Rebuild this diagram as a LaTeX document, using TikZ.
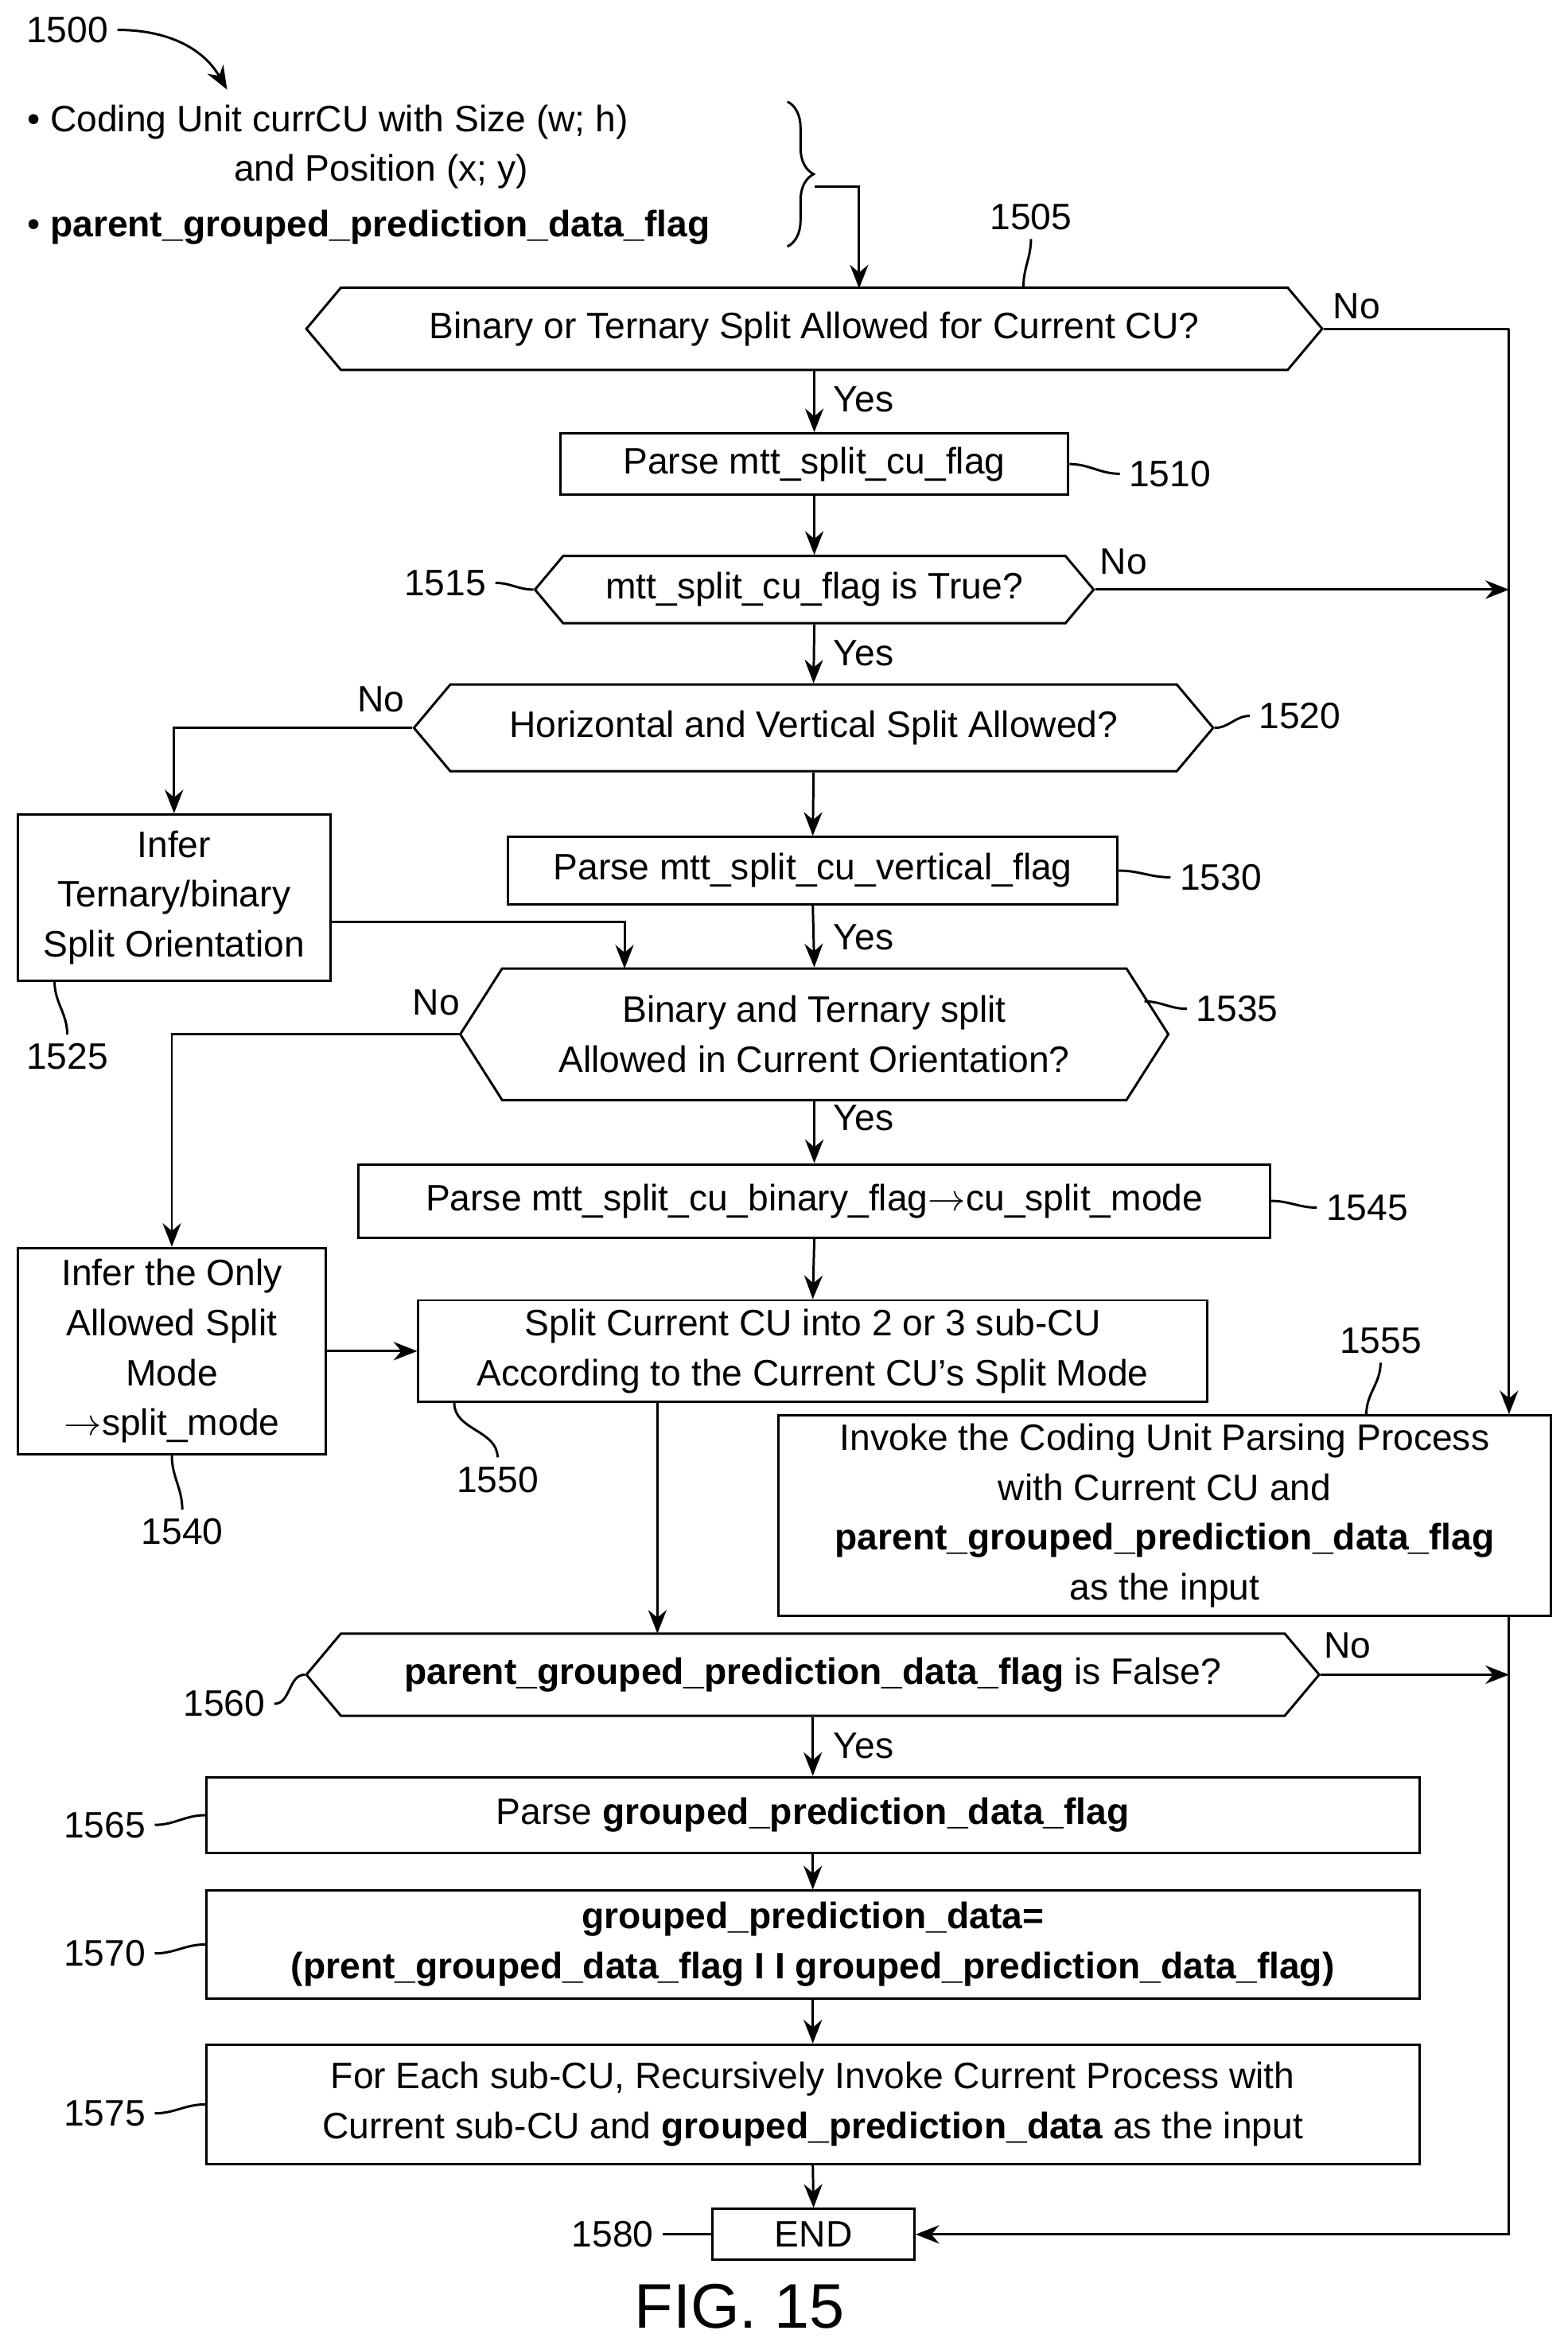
\documentclass[tikz,border=0pt]{standalone}
\usepackage{fontspec}
\setmainfont{Liberation Sans}
\usetikzlibrary{shapes.symbols,decorations.pathreplacing,arrows.meta}
\tikzset{
  box/.style={draw,line width=0.9pt,align=center,inner sep=0pt},
  dec/.style={draw,line width=0.9pt,align=center,shape=signal,signal to=west and east,
    signal pointer angle=100,inner sep=0pt},
  line/.style={line width=0.9pt},
  flow/.style={line width=0.9pt,-{Stealth[length=9pt,width=7pt]}},
}
\begin{document}
\begin{tikzpicture}[x=0.02cm,y=-0.02cm,font=\fontsize{14}{19}\selectfont]
\useasboundingbox (0,0) rectangle (1049,1567);

% inputs
\node (l1500) at (45,20) {1500};
\coordinate (c1500) at (152,60);
\draw[flow] (l1500.east) to[out=0,in=120] (c1500);
\node[anchor=west] (t1) at (12,82) {\textbullet\ Coding Unit currCU with Size (w; h)};
\node (t2) at (255,115) {and Position (x; y)};
\node[anchor=west] (t3) at (12,152) {\textbullet\ \textbf{parent\_grouped\_prediction\_data\_flag}};
\draw[line,decorate,decoration={brace,amplitude=10pt}] (527,68) -- (527,165);
\coordinate (br) at (545,125);
\coordinate (c1505) at (575,193);
\draw[flow] (br) -| (c1505);

% main column
\node[dec,minimum width=13.6cm,minimum height=1.1cm] (d1505) at (545,220) {Binary or Ternary Split Allowed for Current CU?};
\node[box,minimum width=6.8cm,minimum height=0.82cm] (b1510) at (545,310.5) {Parse mtt\_split\_cu\_flag};
\node[dec,minimum width=7.48cm,minimum height=0.9cm] (d1515) at (545,394.5) {mtt\_split\_cu\_flag is True?};
\node[dec,minimum width=10.7cm,minimum height=1.16cm] (d1520) at (544.5,487) {Horizontal and Vertical Split Allowed?};
\node[box,minimum width=4.18cm,minimum height=2.22cm] (b1525) at (116.5,600.5) {Infer\\Ternary/binary\\Split Orientation};
\node[box,minimum width=8.16cm,minimum height=0.9cm] (b1530) at (544,582.5) {Parse mtt\_split\_cu\_vertical\_flag};
\node[dec,minimum width=9.48cm,minimum height=1.76cm,signal pointer angle=115] (d1535) at (545,692) {Binary and Ternary split\\Allowed in Current Orientation?};
\node[box,minimum width=12.2cm,minimum height=0.98cm] (b1545) at (545,803.5) {Parse mtt\_split\_cu\_binary\_flag$\rightarrow$cu\_split\_mode};
\node[box,minimum width=4.12cm,minimum height=2.76cm] (b1540) at (115,904) {Infer the Only\\Allowed Split\\Mode\\$\rightarrow$split\_mode};
\node[box,minimum width=10.56cm,minimum height=1.36cm] (b1550) at (544,904) {Split Current CU into 2 or 3 sub-CU\\According to the Current CU's Split Mode};
\node[box,minimum width=10.34cm,minimum height=2.68cm] (b1555) at (779.5,1014) {Invoke the Coding Unit Parsing Process\\with Current CU and\\\textbf{parent\_grouped\_prediction\_data\_flag}\\as the input};
\node[dec,minimum width=13.56cm,minimum height=1.1cm] (d1560) at (544,1120.5) {\textbf{parent\_grouped\_prediction\_data\_flag} is False?};
\node[box,minimum width=16.24cm,minimum height=1.02cm] (b1565) at (544,1214.5) {Parse \textbf{grouped\_prediction\_data\_flag}};
\node[box,minimum width=16.24cm,minimum height=1.44cm] (b1570) at (544,1301) {\textbf{grouped\_prediction\_data=}\\\textbf{(prent\_grouped\_data\_flag I I grouped\_prediction\_data\_flag)}};
\node[box,minimum width=16.24cm,minimum height=1.6cm] (b1575) at (544,1408) {For Each sub-CU, Recursively Invoke Current Process with\\Current sub-CU and \textbf{grouped\_prediction\_data} as the input};
\node[box,minimum width=2.7cm,minimum height=0.68cm] (end) at (544.5,1495) {END};
\node (fig) at (495,1543) {\fontsize{24}{28}\selectfont FIG. 15};

% connectors
\coordinate (rt) at (1010,220);
\coordinate (c1535) at (418,648);
\coordinate (c1560) at (440,1093);
\draw[line] (d1505.east) -- (rt);
\draw[flow] (rt) -- (b1555.north -| rt);
\draw[flow] (d1505.south) -- (b1510.north);
\draw[flow] (b1510.south) -- (d1515.north);
\draw[flow] (d1515.east) -- (d1515.east -| rt);
\draw[flow] (d1515.south) -- (d1520.north);
\draw[flow] (d1520.west) -| (b1525.north);
\draw[flow] (d1520.south) -- (b1530.north);
\draw[flow] (b1530.south) -- (d1535.north);
\draw[flow] ([yshift=-0.33cm]b1525.east) -| (c1535);
\draw[flow] (d1535.west) -| (b1540.north);
\draw[flow] (d1535.south) -- (b1545.north);
\draw[flow] (b1545.south) -- (b1550.north);
\draw[flow] (b1540.east) -- (b1550.west);
\draw[flow] (b1550.south -| c1560) -- (c1560);
\draw[flow] (d1560.east) -- (d1560.east -| rt);
\draw[flow] (b1555.south -| rt) |- (end.east);
\draw[flow] (d1560.south) -- (b1565.north);
\draw[flow] (b1565.south) -- (b1570.north);
\draw[flow] (b1570.south) -- (b1575.north);
\draw[flow] (b1575.south) -- (end.north);

% branch labels
\node at (908,205) {No};
\node at (752,376) {No};
\node at (255,468) {No};
\node at (292,671) {No};
\node at (902,1101) {No};
\node at (578,267) {Yes};
\node at (578,437) {Yes};
\node at (578,627) {Yes};
\node at (578,748) {Yes};
\node at (578,1168) {Yes};

% reference numerals
\node (l1505) at (690,145) {1505};
\draw[line] (l1505.south) to[out=-90,in=90] ([xshift=2.8cm]d1505.north);
\node (l1510) at (783,317) {1510};
\draw[line] (l1510.west) to[out=180,in=0] (b1510.east);
\node (l1515) at (298,390) {1515};
\draw[line] (l1515.east) to[out=0,in=180] (d1515.west);
\node (l1520) at (870,479) {1520};
\draw[line] (l1520.west) to[out=180,in=0] (d1520.east);
\node (l1525) at (45,707) {1525};
\draw[line] (l1525.north) to[out=90,in=-90] ([xshift=-1.6cm]b1525.south);
\node (l1530) at (817,587) {1530};
\draw[line] (l1530.west) to[out=180,in=0] (b1530.east);
\node (l1535) at (828,675) {1535};
\coordinate (e1535) at (766,670);
\draw[line] (l1535.west) to[out=180,in=0] (e1535);
\node (l1545) at (915,808) {1545};
\draw[line] (l1545.west) to[out=180,in=0] (b1545.east);
\node (l1540) at (122,1025) {1540};
\draw[line] (l1540.north) to[out=90,in=-90] (b1540.south);
\node (l1550) at (333,990) {1550};
\draw[line] (l1550.north) to[out=90,in=-90] ([xshift=-4.8cm]b1550.south);
\node (l1555) at (924,897) {1555};
\draw[line] (l1555.south) to[out=-90,in=90] ([xshift=2.7cm]b1555.north);
\node (l1560) at (150,1140) {1560};
\draw[line] (l1560.east) to[out=0,in=180] (d1560.west);
\node (l1565) at (70,1221) {1565};
\draw[line] (l1565.east) to[out=0,in=180] (b1565.west);
\node (l1570) at (70,1307) {1570};
\draw[line] (l1570.east) to[out=0,in=180] (b1570.west);
\node (l1575) at (70,1414) {1575};
\draw[line] (l1575.east) to[out=0,in=180] (b1575.west);
\node (l1580) at (410,1495) {1580};
\draw[line] (l1580.east) to[out=0,in=180] (end.west);
\end{tikzpicture}
\end{document}
